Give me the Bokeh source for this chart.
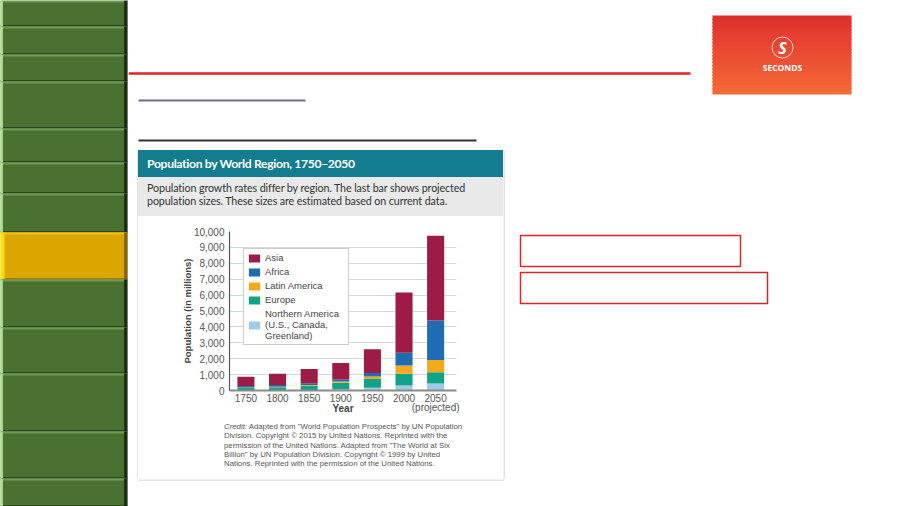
from bokeh.plotting import figure
from bokeh.layouts import row, column
from bokeh.models import (Range1d, Div, ColumnDataSource, FixedTicker,
                          NumeralTickFormatter, Legend, LegendItem, Label)
from bokeh.embed import file_html
from bokeh.resources import INLINE

# ---------------- data ----------------
years = ["1750", "1800", "1850", "1900", "1950", "2000", "2050"]
year_labels = ["1750", "1800", "1850", "1900", "1950", "2000", "2050\n(projected)"]
asia = [570, 720, 900, 1030, 1490, 3800, 5330]
africa = [106, 107, 111, 133, 221, 800, 2480]
latin_america = [16, 24, 38, 74, 167, 520, 780]
europe = [163, 203, 276, 408, 547, 730, 710]
northern_america = [2, 7, 26, 82, 172, 320, 435]

region_names = ["Asia", "Africa", "Latin America", "Europe",
                "Northern America\n(U.S., Canada,\nGreenland)"]
region_colors = ["#9c1c47", "#1f6cb2", "#f6a81c", "#12a386", "#9dcbeb"]
y_ticks = [0, 1000, 2000, 3000, 4000, 5000, 6000, 7000, 8000, 9000, 10000]

title_text = "Population by World Region, 1750\u20132050"
subtitle_lines = [
    "Population growth rates differ by region. The last bar shows projected",
    "population sizes. These sizes are estimated based on current data.",
]
credit_lines = [
    "<i>Credit:</i> Adapted from \"World Population Prospects\" by UN Population",
    "Division. Copyright \u00a9 2015 by United Nations. Reprinted with the",
    "permission of the United Nations. Adapted from \"The World at Six",
    "Billion\" by UN Population Division. Copyright \u00a9 1999 by United",
    "Nations. Reprinted with the permission of the United Nations.",
]
y_axis_title = "Population (in millions)"
x_axis_title = "Year"
logo_word = "SECONDS"


def deco_fig(w, h):
    f = figure(width=w, height=h, x_range=Range1d(0, w), y_range=Range1d(h, 0),
               toolbar_location=None, output_backend="svg", min_border=0,
               x_axis_type=None, y_axis_type=None, outline_line_color=None,
               background_fill_color="white", border_fill_color="white",
               tools="", margin=0)
    f.grid.visible = False
    return f


# ---------------- left navigation strip ----------------
left = deco_fig(128, 506)
bounds = [0, 26, 54, 81, 128, 162, 193, 232, 279, 327, 373, 431, 478, 506]
ql, qr, qt, qb, qc = [], [], [], [], []


def addq(l, r, t, b, c):
    ql.append(l); qr.append(r); qt.append(t); qb.append(b); qc.append(c)


for i in range(len(bounds) - 1):
    y0, y1 = bounds[i], bounds[i + 1]
    yellow = (i == 7)
    base = "#dba600" if yellow else "#4a7132"
    hi = "#f2c01a" if yellow else "#6c9a50"
    lo = "#a67c00" if yellow else "#2c4720"
    edge_r = "#8c6600" if yellow else "#1b3210"
    edge_l = "#ffe000" if yellow else "#a4d882"
    addq(0, 127, y0, y1, base)
    addq(0, 127, y0, y0 + 2, hi)
    addq(0, 127, y1 - 1.5, y1, lo)
    addq(123.5, 127, y0, y1, edge_r)
    addq(0, 2.5 if not yellow else 4, y0, y1, edge_l)
addq(127, 128, 0, 506, "#8a8a8a")
left.quad(left=ql, right=qr, top=qt, bottom=qb, fill_color=qc, line_color=None)

# ---------------- top strip ----------------
top = deco_fig(772, 150)
top.segment(x0=[0], y0=[73], x1=[562], y1=[73], line_color="#d8262b", line_width=2.5)
top.segment(x0=[10], y0=[100], x1=[177], y1=[100], line_color="#6b7080", line_width=2)
top.segment(x0=[10], y0=[140], x1=[348], y1=[140], line_color="#333333", line_width=2)
# logo with gradient
n = 24
lx0, lx1, ly0, ly1 = 584, 723, 15, 94
c0 = (0xdf, 0x30, 0x30)
c1 = (0xf5, 0x6a, 0x36)
gl, gr, gt, gb, gc = [], [], [], [], []
for k in range(n):
    t = k / (n - 1)
    col = "#%02x%02x%02x" % tuple(int(round(c0[j] + (c1[j] - c0[j]) * t)) for j in range(3))
    gl.append(lx0); gr.append(lx1)
    gt.append(ly0 + (ly1 - ly0) * k / n)
    gb.append(min(ly1, ly0 + (ly1 - ly0) * (k + 1) / n + 1.5))
    gc.append(col)
top.quad(left=gl, right=gr, top=gt, bottom=gb, fill_color=gc, line_color=None)
top.circle(x=[654], y=[47], radius=10.5, fill_alpha=0, line_color="white",
           line_alpha=0.75, line_width=1)
top.add_layout(Label(x=654, y=47, text="S", text_color="white", text_align="center",
                     text_baseline="middle", text_font="Open Sans",
                     text_font_style="bold italic", text_font_size="16px"))
top.add_layout(Label(x=654, y=67, text=logo_word, text_color="white", text_align="center",
                     text_baseline="middle", text_font="Open Sans",
                     text_font_style="bold", text_font_size="8.5px"))

# ---------------- chart panel ----------------
header = Div(text=('<div style="background:#137c8e;color:#ffffff;font-family:Lato;'
                   'font-weight:bold;font-size:12.2px;letter-spacing:-0.35px;height:27px;'
                   'line-height:27px;padding-left:9px;box-sizing:border-box;width:365px;'
                   'white-space:nowrap;">' + title_text + '</div>'),
             width=365, height=27, margin=0)
subtitle = Div(text=('<div style="background:#e9e9e9;color:#333333;font-family:Lato;'
                     'font-size:10.7px;letter-spacing:-0.1px;height:39px;line-height:12.8px;'
                     'padding:5px 0 0 9px;box-sizing:border-box;width:365px;'
                     'white-space:nowrap;">' + "<br>".join(subtitle_lines) + '</div>'),
               width=365, height=39, margin=0)
credit = Div(text=('<div style="background:#ffffff;color:#555555;font-family:\'Liberation Sans\';'
                   'font-size:7.8px;height:58px;line-height:9.3px;padding:1px 0 0 86px;'
                   'box-sizing:border-box;width:365px;white-space:nowrap;">'
                   + "<br>".join(credit_lines) + '</div>'),
             width=365, height=58, margin=0)

src = ColumnDataSource(dict(
    x=list(range(len(years))),
    northern_america=northern_america,
    europe=europe,
    latin_america=latin_america,
    africa=africa,
    asia=asia,
))
stackers = ["northern_america", "europe", "latin_america", "africa", "asia"]
stack_colors = list(reversed(region_colors))

p = figure(width=365, height=205, x_range=Range1d(-0.52, 6.66), y_range=Range1d(0, 10000),
           toolbar_location=None, output_backend="svg", tools="",
           min_border_left=91, min_border_right=47, min_border_top=15, min_border_bottom=31,
           outline_line_color=None, background_fill_color="white",
           border_fill_color="white", margin=0)
rs = p.vbar_stack(stackers, x="x", width=0.54, source=src, fill_color=stack_colors,
                  line_color=None)

p.xgrid.grid_line_color = None
p.ygrid.grid_line_color = "#d6d6d6"
p.ygrid.grid_line_width = 1

p.yaxis.ticker = FixedTicker(ticks=y_ticks)
p.yaxis.formatter = NumeralTickFormatter(format="0,0")
p.yaxis.major_tick_out = 0
p.yaxis.major_tick_in = 0
p.yaxis.minor_tick_out = 0
p.yaxis.minor_tick_in = 0
p.yaxis.axis_line_color = "#555555"
p.yaxis.axis_line_width = 1.2
p.yaxis.major_label_standoff = 5
p.yaxis.major_label_text_font = "Liberation Sans"
p.yaxis.major_label_text_font_size = "10px"
p.yaxis.major_label_text_color = "#555555"
p.yaxis.axis_label = y_axis_title
p.yaxis.axis_label_text_font = "Liberation Sans"
p.yaxis.axis_label_text_font_size = "9.5px"
p.yaxis.axis_label_text_font_style = "bold"
p.yaxis.axis_label_text_color = "#444444"
p.yaxis.axis_label_standoff = -2

p.xaxis.ticker = FixedTicker(ticks=list(range(len(years))))
p.xaxis.major_label_overrides = {i: lab for i, lab in enumerate(year_labels)}
p.xaxis.major_tick_out = 0
p.xaxis.major_tick_in = 0
p.xaxis.minor_tick_out = 0
p.xaxis.minor_tick_in = 0
p.xaxis.axis_line_color = "#8a8a8a"
p.xaxis.axis_line_width = 2
p.xaxis.major_label_standoff = 2
p.xaxis.major_label_text_font = "Liberation Sans"
p.xaxis.major_label_text_font_size = "10px"
p.xaxis.major_label_text_line_height = 0.82
p.xaxis.major_label_text_color = "#555555"
p.xaxis.axis_label = x_axis_title
p.xaxis.axis_label_text_font = "Liberation Sans"
p.xaxis.axis_label_text_font_size = "10px"
p.xaxis.axis_label_text_font_style = "bold"
p.xaxis.axis_label_text_color = "#444444"
p.xaxis.axis_label_standoff = -13

items = [LegendItem(label=region_names[i], renderers=[rs[len(rs) - 1 - i]])
         for i in range(len(region_names))]
legend = Legend(items=items, location=(14, 45), glyph_width=14, glyph_height=10,
                label_standoff=4, spacing=3, padding=3, margin=0,
                label_text_font="Liberation Sans", label_text_font_size="9.5px",
                label_text_color="#444444", border_line_color="#9a9a9a",
                border_line_width=1, background_fill_color="white",
                background_fill_alpha=1, label_height=10, label_width=80)
p.add_layout(legend)

panel = column(header, subtitle, p, credit, spacing=0, margin=0)

# ---------------- middle row ----------------
gap = deco_fig(10, 329)
gap.segment(x0=[9.5], y0=[0], x1=[9.5], y1=[329], line_color="#c8c8c8", line_width=1)
right = deco_fig(397, 329)
right.segment(x0=[0.5], y0=[0], x1=[0.5], y1=[329], line_color="#c8c8c8", line_width=1)
right.quad(left=[17, 17], right=[237, 264], top=[85, 122], bottom=[116, 153],
           fill_alpha=0, line_color="#d4262b", line_width=1.5)

bottom = deco_fig(772, 27)
bottom.segment(x0=[9.5], y0=[0.5], x1=[375.5], y1=[0.5], line_color="#c8c8c8", line_width=1)

middle = row(gap, panel, right, spacing=0, margin=0)
rightside = column(top, middle, bottom, spacing=0, margin=0)
layout = row(left, rightside, spacing=0, margin=0)

open("out.html", "w").write(file_html(layout, INLINE))
